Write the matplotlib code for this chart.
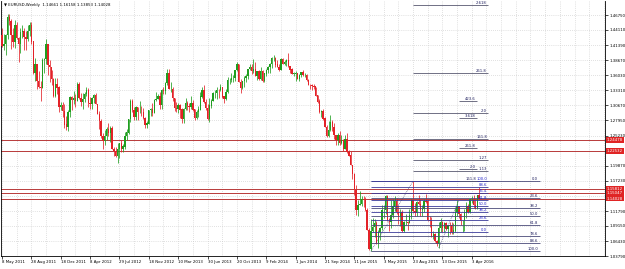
import matplotlib
matplotlib.use("Agg")
import matplotlib.pyplot as plt
import matplotlib.transforms as mtransforms
import numpy as np

# EURUSD weekly bars, first bar = week of 8 May 2011 (open of each bar = previous close)
first_open = 1.4310

close_2011 = [1.4130, 1.4150, 1.4320, 1.4640, 1.4570, 1.4315, 1.4195, 1.4500, 1.4260, 1.4150,
              1.4370, 1.4390, 1.4280, 1.4240, 1.4390, 1.4490, 1.4200, 1.3650, 1.3790, 1.3500,
              1.3390, 1.3380, 1.3870, 1.3890, 1.4150, 1.3780, 1.3750, 1.3530, 1.3240, 1.3450,
              1.3380, 1.3040, 1.3060, 1.2960]
high_2011 = [1.4440, 1.4345, 1.4330, 1.4700, 1.4700, 1.4600, 1.4450, 1.4580, 1.4550, 1.4290,
             1.4440, 1.4500, 1.4450, 1.4390, 1.4490, 1.4550, 1.4550, 1.4220, 1.3900, 1.3800,
             1.3670, 1.3500, 1.3915, 1.3900, 1.4245, 1.4150, 1.3870, 1.3700, 1.3550, 1.3550,
             1.3550, 1.3410, 1.3120, 1.3120]
low_2011 = [1.4110, 1.4050, 1.3970, 1.4250, 1.4490, 1.4075, 1.4100, 1.4090, 1.4250, 1.3840,
            1.4000, 1.4260, 1.4050, 1.4050, 1.4210, 1.4300, 1.4150, 1.3630, 1.3500, 1.3360,
            1.3370, 1.3145, 1.3380, 1.3650, 1.3800, 1.3610, 1.3485, 1.3420, 1.3210, 1.3220,
            1.3260, 1.2950, 1.2980, 1.2860]

close_2012 = [1.2720, 1.2680, 1.2940, 1.3210, 1.3155, 1.3200, 1.3140, 1.3450, 1.3200, 1.3120,
              1.3180, 1.3270, 1.3340, 1.3100, 1.3080, 1.3200, 1.3240, 1.3085, 1.2910, 1.2780,
              1.2520, 1.2430, 1.2520, 1.2640, 1.2570, 1.2660, 1.2290, 1.2250, 1.2160, 1.2290,
              1.2390, 1.2290, 1.2330, 1.2510, 1.2580, 1.2820, 1.3130, 1.2980, 1.2860, 1.3040,
              1.2950, 1.2950, 1.2940, 1.2840, 1.2710, 1.2740, 1.2980, 1.2990, 1.2930, 1.3160,
              1.3180, 1.3220, 1.3070]
high_2012 = [1.3080, 1.2880, 1.2990, 1.3230, 1.3230, 1.3320, 1.3270, 1.3485, 1.3485, 1.3290,
             1.3280, 1.3300, 1.3390, 1.3380, 1.3210, 1.3215, 1.3270, 1.3280, 1.3090, 1.2970,
             1.2830, 1.2580, 1.2630, 1.2670, 1.2750, 1.2700, 1.2690, 1.2330, 1.2330, 1.2390,
             1.2400, 1.2440, 1.2370, 1.2590, 1.2640, 1.2820, 1.3170, 1.3170, 1.3040, 1.3050,
             1.3040, 1.3140, 1.3050, 1.3020, 1.2850, 1.2780, 1.2990, 1.3020, 1.3100, 1.3170,
             1.3310, 1.3260, 1.3300]
low_2012 = [1.2660, 1.2625, 1.2600, 1.2860, 1.2980, 1.3080, 1.3030, 1.3140, 1.3180, 1.3050,
            1.3000, 1.3120, 1.3240, 1.3030, 1.3000, 1.3000, 1.3110, 1.3080, 1.2910, 1.2640,
            1.2490, 1.2290, 1.2350, 1.2440, 1.2520, 1.2410, 1.2290, 1.2160, 1.2140, 1.2040,
            1.2130, 1.2240, 1.2240, 1.2290, 1.2450, 1.2550, 1.2760, 1.2950, 1.2800, 1.2800,
            1.2800, 1.2920, 1.2880, 1.2830, 1.2660, 1.2660, 1.2740, 1.2880, 1.2880, 1.2920,
            1.3140, 1.3180, 1.3000]

close_2013 = [1.3340, 1.3320, 1.3460, 1.3640, 1.3360, 1.3360, 1.3190, 1.3020, 1.3000, 1.3070,
              1.2990, 1.2820, 1.3000, 1.3100, 1.3050, 1.3030, 1.3110, 1.2990, 1.2840, 1.2940,
              1.2990, 1.3220, 1.3340, 1.3120, 1.3010, 1.2830, 1.3060, 1.3140, 1.3280, 1.3280,
              1.3340, 1.3330, 1.3380, 1.3220, 1.3180, 1.3300, 1.3520, 1.3520, 1.3550, 1.3550,
              1.3690, 1.3800, 1.3480, 1.3370, 1.3490, 1.3550, 1.3590, 1.3710, 1.3740, 1.3670,
              1.3710, 1.3590]
high_2013 = [1.3360, 1.3400, 1.3480, 1.3710, 1.3710, 1.3480, 1.3400, 1.3200, 1.3130, 1.3110,
             1.3090, 1.3010, 1.3010, 1.3200, 1.3140, 1.3100, 1.3240, 1.3160, 1.3000, 1.2990,
             1.3060, 1.3310, 1.3390, 1.3420, 1.3180, 1.3080, 1.3200, 1.3180, 1.3300, 1.3340,
             1.3400, 1.3350, 1.3450, 1.3400, 1.3230, 1.3350, 1.3570, 1.3560, 1.3650, 1.3600,
             1.3700, 1.3830, 1.3800, 1.3530, 1.3500, 1.3580, 1.3620, 1.3720, 1.3810, 1.3810,
             1.3890, 1.3830]
low_2013 = [1.3000, 1.3260, 1.3260, 1.3430, 1.3360, 1.3310, 1.3140, 1.2970, 1.2950, 1.2930,
            1.2840, 1.2750, 1.2750, 1.2990, 1.2990, 1.2950, 1.3000, 1.2960, 1.2800, 1.2820,
            1.2860, 1.2980, 1.3190, 1.3100, 1.2990, 1.2810, 1.2760, 1.3010, 1.3140, 1.3190,
            1.3180, 1.3200, 1.3320, 1.3200, 1.3100, 1.3160, 1.3290, 1.3450, 1.3480, 1.3480,
            1.3500, 1.3670, 1.3480, 1.3290, 1.3360, 1.3400, 1.3480, 1.3540, 1.3690, 1.3620,
            1.3650, 1.3590]

close_2014 = [1.3670, 1.3540, 1.3680, 1.3490, 1.3630, 1.3690, 1.3740, 1.3800, 1.3910, 1.3910,
              1.3790, 1.3750, 1.3700, 1.3880, 1.3810, 1.3830, 1.3870, 1.3760, 1.3700, 1.3630,
              1.3630, 1.3640, 1.3540, 1.3600, 1.3650, 1.3600, 1.3600, 1.3520, 1.3430, 1.3420,
              1.3410, 1.3400, 1.3240, 1.3130, 1.2950, 1.2960, 1.2830, 1.2680, 1.2520, 1.2630,
              1.2760, 1.2670, 1.2530, 1.2450, 1.2530, 1.2390, 1.2450, 1.2290, 1.2460, 1.2230,
              1.2170, 1.2000]
high_2014 = [1.3680, 1.3700, 1.3740, 1.3700, 1.3640, 1.3710, 1.3770, 1.3820, 1.3920, 1.3970,
             1.3930, 1.3880, 1.3810, 1.3900, 1.3900, 1.3870, 1.3890, 1.3990, 1.3770, 1.3730,
             1.3660, 1.3670, 1.3640, 1.3620, 1.3660, 1.3700, 1.3650, 1.3630, 1.3530, 1.3440,
             1.3440, 1.3440, 1.3400, 1.3250, 1.3170, 1.2980, 1.3000, 1.2860, 1.2710, 1.2790,
             1.2890, 1.2800, 1.2750, 1.2540, 1.2570, 1.2600, 1.2530, 1.2460, 1.2530, 1.2570,
             1.2260, 1.2250]
low_2014 = [1.3520, 1.3520, 1.3510, 1.3480, 1.3480, 1.3590, 1.3640, 1.3640, 1.3730, 1.3850,
            1.3750, 1.3740, 1.3670, 1.3690, 1.3800, 1.3780, 1.3770, 1.3750, 1.3650, 1.3620,
            1.3580, 1.3500, 1.3530, 1.3500, 1.3570, 1.3590, 1.3570, 1.3500, 1.3420, 1.3360,
            1.3330, 1.3350, 1.3240, 1.3110, 1.2920, 1.2860, 1.2800, 1.2680, 1.2500, 1.2500,
            1.2610, 1.2610, 1.2460, 1.2350, 1.2360, 1.2360, 1.2370, 1.2250, 1.2280, 1.2220,
            1.2160, 1.2000]

close_2015 = [1.1840, 1.1560, 1.1200, 1.1290, 1.1310, 1.1390, 1.1380, 1.1200, 1.0840, 1.0500,
              1.0820, 1.0890, 1.0970, 1.0600, 1.0810, 1.0870, 1.1200, 1.1200, 1.1450, 1.1010,
              1.0990, 1.1110, 1.1260, 1.1350, 1.1160, 1.1100, 1.1160, 1.0830, 1.0980, 1.0980,
              1.0970, 1.1100, 1.1380, 1.1180, 1.1150, 1.1340, 1.1300, 1.1200, 1.1210, 1.1360,
              1.1350, 1.1020, 1.1000, 1.0740, 1.0770, 1.0640, 1.0590, 1.0880, 1.0990, 1.0870,
              1.0960, 1.0860]
high_2015 = [1.2010, 1.1850, 1.1640, 1.1380, 1.1530, 1.1450, 1.1450, 1.1430, 1.1240, 1.0870,
             1.1040, 1.1050, 1.1030, 1.1000, 1.0850, 1.0900, 1.1290, 1.1290, 1.1470, 1.1470,
             1.1060, 1.1380, 1.1390, 1.1440, 1.1410, 1.1280, 1.1210, 1.1200, 1.1000, 1.1130,
             1.1000, 1.1210, 1.1390, 1.1714, 1.1330, 1.1360, 1.1460, 1.1390, 1.1290, 1.1390,
             1.1490, 1.1390, 1.1100, 1.1080, 1.0830, 1.0790, 1.0660, 1.0980, 1.1050, 1.1000,
             1.0990, 1.0990]
low_2015 = [1.1750, 1.1460, 1.1110, 1.1100, 1.1280, 1.1270, 1.1260, 1.1180, 1.0840, 1.0490,
            1.0462, 1.0800, 1.0710, 1.0600, 1.0520, 1.0660, 1.0850, 1.1060, 1.1130, 1.1000,
            1.0820, 1.0880, 1.1050, 1.1180, 1.1130, 1.0950, 1.0920, 1.0810, 1.0800, 1.0930,
            1.0850, 1.0960, 1.1040, 1.1150, 1.1090, 1.1100, 1.1280, 1.1100, 1.1100, 1.1170,
            1.1320, 1.1010, 1.0900, 1.0710, 1.0680, 1.0620, 1.0560, 1.0524, 1.0800, 1.0800,
            1.0800, 1.0850]

close_2016 = [1.0930, 1.0920, 1.0800, 1.0830, 1.1160, 1.1260, 1.1130, 1.1000, 1.1000, 1.1150,
              1.1270, 1.1170, 1.1390, 1.1400, 1.1280, 1.1220, 1.1466, 1.14028]
high_2016 = [1.0940, 1.0990, 1.0990, 1.0960, 1.1240, 1.1380, 1.1260, 1.1150, 1.1020, 1.1220,
             1.1340, 1.1300, 1.1400, 1.1440, 1.1460, 1.1400, 1.1470, 1.16158]
low_2016 = [1.0710, 1.0780, 1.0780, 1.0780, 1.0810, 1.1100, 1.1060, 1.0940, 1.0810, 1.0820,
            1.1060, 1.1140, 1.1140, 1.1330, 1.1230, 1.1210, 1.1220, 1.13853]

date_labels = ["8 May 2011", "28 Aug 2011", "18 Dec 2011", "8 Apr 2012", "29 Jul 2012",
               "18 Nov 2012", "10 Mar 2013", "30 Jun 2013", "20 Oct 2013", "9 Feb 2014",
               "1 Jun 2014", "21 Sep 2014", "11 Jan 2015", "3 May 2015", "23 Aug 2015",
               "13 Dec 2015", "3 Apr 2016"]
price_ticks = [1.0379, 1.0643, 1.0915, 1.1179, 1.1451, 1.1723, 1.1987, 1.2259, 1.2523,
               1.2795, 1.3067, 1.3331, 1.3603, 1.3867, 1.4139, 1.4411, 1.4675]
# these grid labels sit under the red price tags in the terminal
hidden_ticks = [1.1451, 1.2259]

# horizontal support / resistance lines
red_levels = [1.2447, 1.2253, 1.1581, 1.1505, 1.14028]
red_labels = ["1.24478", "1.22532", "1.15812", "1.15047", "1.14028"]

# fibonacci objects: (first week, last week) and level prices / labels
fib_a_weeks = (201, 293)
fib_a_prices = [1.1714, 1.1419, 1.1236, 1.1088, 1.0940, 1.0730, 1.0605, 1.0462]
fib_a_labels = ["0.0", "23.6", "38.2", "50.0", "61.8", "78.6", "88.6", "100.0"]

fib_b_weeks = (201, 265)
fib_b_prices = [1.0810, 1.1023, 1.1155, 1.1262, 1.1369, 1.1501, 1.1611, 1.1714]
fib_b_labels = ["0.0", "23.6", "38.2", "50.0", "61.8", "76.4", "88.6", "100.0"]

fib_c_weeks = (224, 265)
fib_c_prices = [1.1899, 1.2094, 1.2465, 1.2925, 1.3650, 1.4852]
fib_c_labels = ["1.13", "1.27", "161.8", "2.0", "261.8", "2.618"]

fib_d_weeks = (249, 259)
fib_d_prices = [1.3137, 1.2836, 1.2306, 1.1935, 1.1714]
fib_d_labels = ["423.6", "3.618", "261.8", "2.0", "161.8"]

closes = np.array(close_2011 + close_2012 + close_2013 + close_2014 + close_2015 + close_2016)
highs = np.array(high_2011 + high_2012 + high_2013 + high_2014 + high_2015 + high_2016)
lows = np.array(low_2011 + low_2012 + low_2013 + low_2014 + low_2015 + low_2016)
opens = np.concatenate([[first_open], closes[:-1]])
weeks = np.arange(len(closes))

fig = plt.figure(figsize=(6.25, 2.69), dpi=100)
ax = fig.add_axes([1 / 625, 13 / 269, 604 / 625, 255 / 269])
ax.set_xlim(-0.55, 328.6)
ax.set_ylim(1.0379, 1.4925)

grid_color = "#c4c4c4"
for w in range(0, 329, 8):
    ax.axvline(w, color=grid_color, lw=0.5, ls=(0, (1, 2)), zorder=0)
for p in price_ticks:
    ax.axhline(p, color=grid_color, lw=0.5, ls=(0, (1, 2)), zorder=0)

# candles
up = closes >= opens
colors = np.where(up, "#1f9e1f", "#e32228")
ax.vlines(weeks, lows, highs, colors=colors, lw=0.55, zorder=3)
ax.bar(weeks, np.abs(closes - opens) + 0.0004, bottom=np.minimum(opens, closes),
       width=0.75, color=colors, linewidth=0, zorder=3)

# red horizontal levels
trans = mtransforms.blended_transform_factory(ax.transAxes, ax.transData)
for p, lab in zip(red_levels, red_labels):
    ax.axhline(p, color="#b83a3a", lw=0.7, zorder=2)
    ax.text(1.003, p, lab, transform=trans, fontsize=2.8, color="white", ha="left",
            va="center", clip_on=False, zorder=10,
            bbox=dict(boxstyle="square,pad=0.2", fc="#e02424", ec="none"))


def draw_fib(span, prices, labels, line_color, text_color):
    ax.hlines(prices, span[0], span[1], colors=line_color, lw=0.6, zorder=4)
    for p, lab in zip(prices, labels):
        ax.text(span[1] - 0.8, p, lab, fontsize=2.7, color=text_color, ha="right",
                va="bottom", zorder=5)


draw_fib(fib_a_weeks, fib_a_prices, fib_a_labels, "#4a4a78", "#1c1c5c")
draw_fib(fib_b_weeks, fib_b_prices, fib_b_labels, "#3a3a9a", "#2020c8")
draw_fib(fib_c_weeks, fib_c_prices, fib_c_labels, "#585870", "#1c1c5c")
draw_fib(fib_d_weeks, fib_d_prices, fib_d_labels, "#585870", "#1c1c5c")
ax.plot([201, 224], [1.0462, 1.1714], color="#3c3c6e", lw=0.5, ls=(0, (1, 1.5)), zorder=4)
ax.plot([238, 249], [1.0524, 1.1376], color="#3c3c6e", lw=0.5, ls=(0, (1, 1.5)), zorder=4)

# axes look
ax.yaxis.tick_right()
ax.set_yticks(price_ticks)
ax.set_yticklabels(["" if p in hidden_ticks else f"{p:.5f}" for p in price_ticks])
ax.set_xticks(np.arange(0, 16 * len(date_labels), 16))
ax.set_xticklabels(date_labels)
for lbl in ax.get_xticklabels():
    lbl.set_horizontalalignment("left")
ax.tick_params(axis="both", labelsize=2.8, length=2, width=0.5, pad=1)
for side in ("left", "bottom", "right"):
    ax.spines[side].set_linewidth(0.6)
ax.spines["top"].set_visible(False)

ax.text(0.005, 0.993, "\u25bc EURUSD,Weekly  1.14661 1.16158 1.13853 1.14028",
        transform=ax.transAxes, fontsize=2.8, ha="left", va="top", zorder=10)

fig.savefig("out.png", dpi=100)
